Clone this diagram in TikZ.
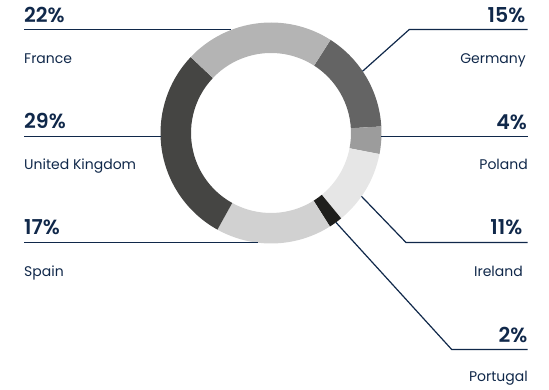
\documentclass[tikz,border=0pt]{standalone}
\usepackage{fontspec}
\setmainfont{Poppins}
\newfontfamily\pctfont{Poppins SemiBold}
\usepackage{tikz}
\definecolor{navy}{HTML}{10284A}
\definecolor{frgray}{HTML}{B4B4B4}
\definecolor{degray}{HTML}{646464}
\definecolor{plgray}{HTML}{9C9C9C}
\definecolor{iegray}{HTML}{E6E6E6}
\definecolor{ptgray}{HTML}{1F1F1D}
\definecolor{esgray}{HTML}{D1D1D1}
\definecolor{ukgray}{HTML}{454543}
\tikzset{
  pct/.style={font=\pctfont\fontsize{20.5}{24}\selectfont, text=navy, inner sep=0pt},
  country/.style={font=\fontsize{14}{16}\selectfont, text=navy, inner sep=0pt},
  lead/.style={draw=navy, line width=1.2pt},
}

\begin{document}
\begin{tikzpicture}[x=1pt, y=1pt]
\useasboundingbox (0,0) rectangle (549,390);
\begin{scope}[shift={(271,257)}]
\fill[degray] (57.4:110.5) arc[start angle=57.4, end angle=3.4, radius=110.5] -- (3.4:80) arc[start angle=3.4, end angle=57.4, radius=80] -- cycle;
\fill[plgray] (3.4:110.5) arc[start angle=3.4, end angle=-11, radius=110.5] -- (-11:80) arc[start angle=-11, end angle=3.4, radius=80] -- cycle;
\fill[iegray] (-11:110.5) arc[start angle=-11, end angle=-50.6, radius=110.5] -- (-50.6:80) arc[start angle=-50.6, end angle=-11, radius=80] -- cycle;
\fill[ptgray] (-50.6:110.5) arc[start angle=-50.6, end angle=-57.8, radius=110.5] -- (-57.8:80) arc[start angle=-57.8, end angle=-50.6, radius=80] -- cycle;
\fill[esgray] (-57.8:110.5) arc[start angle=-57.8, end angle=-119, radius=110.5] -- (-119:80) arc[start angle=-119, end angle=-57.8, radius=80] -- cycle;
\fill[ukgray] (-119:110.5) arc[start angle=-119, end angle=-223.4, radius=110.5] -- (-223.4:80) arc[start angle=-223.4, end angle=-119, radius=80] -- cycle;
\fill[frgray] (136.6:110.5) arc[start angle=136.6, end angle=57.4, radius=110.5] -- (57.4:80) arc[start angle=57.4, end angle=136.6, radius=80] -- cycle;
\coordinate (fr-in) at (111.2:110.5);
\coordinate (uk-in) at (181.6:110.5);
\coordinate (es-in) at (-96.9:110.5);
\coordinate (de-in) at (34:110.5);
\coordinate (pl-in) at (-1.9:110.5);
\coordinate (ie-in) at (-35:110.5);
\coordinate (pt-in) at (-54:110.5);
\end{scope}

\node[pct, anchor=base west] (fr-pct) at (24,367.3) {22\%};
\node[country, anchor=base west] (fr-lbl) at (24,326) {France};
\node[pct, anchor=base west] (uk-pct) at (24,261.7) {29\%};
\node[country, anchor=base west] (uk-lbl) at (24,220) {United Kingdom};
\node[pct, anchor=base west] (es-pct) at (24,155) {17\%};
\node[country, anchor=base west] (es-lbl) at (24,113) {Spain};

\node[pct, anchor=base east] (de-pct) at (525.5,367.3) {15\%};
\node[country, anchor=base east] (de-lbl) at (526,326) {Germany};
\node[pct, anchor=base east] (pl-pct) at (527,260.7) {4\%};
\node[country, anchor=base east] (pl-lbl) at (528,220) {Poland};
\node[pct, anchor=base east] (ie-pct) at (522.5,155) {11\%};
\node[country, anchor=base east] (ie-lbl) at (523,113) {Ireland};
\node[pct, anchor=base east] (pt-pct) at (527.5,47.3) {2\%};
\node[country, anchor=base east] (pt-lbl) at (528,8.3) {Portugal};

\coordinate (fr-end) at (24,360.5);
\coordinate (uk-end) at (24,253.5);
\coordinate (es-end) at (24,147.5);
\coordinate (de-knee) at (409.3,360.5);
\coordinate (de-end) at (527.7,360.5);
\coordinate (pl-end) at (527.7,253.5);
\coordinate (ie-knee) at (406,147.5);
\coordinate (ie-end) at (527.5,147.5);
\coordinate (pt-knee) at (451.7,40.5);
\coordinate (pt-end) at (527.5,40.5);

\draw[lead] (fr-end) -- (fr-in |- fr-end);
\draw[lead] (uk-end) -- (uk-in |- uk-end);
\draw[lead] (es-end) -- (es-in |- es-end);
\draw[lead] (de-in) -- (de-knee) -- (de-end);
\draw[lead] (pl-end) -- (pl-in |- pl-end);
\draw[lead] (ie-in) -- (ie-knee) -- (ie-end);
\draw[lead] (pt-in) -- (pt-knee) -- (pt-end);
\end{tikzpicture}
\end{document}
